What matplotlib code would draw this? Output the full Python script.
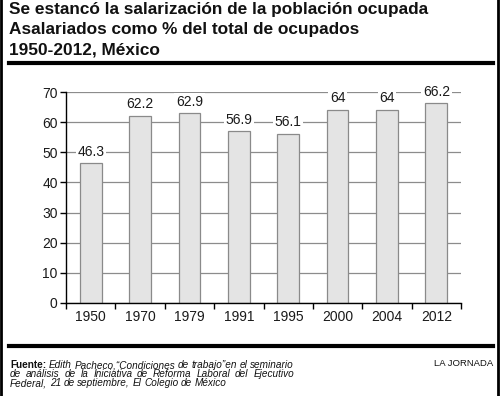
import matplotlib.pyplot as plt
from matplotlib.lines import Line2D
from matplotlib.transforms import IdentityTransform

# --- data ---
years = ["1950", "1970", "1979", "1991", "1995", "2000", "2004", "2012"]
pct_asalariados = [46.3, 62.2, 62.9, 56.9, 56.1, 64, 64, 66.2]
value_labels = ["46.3", "62.2", "62.9", "56.9", "56.1", "64", "64", "66.2"]
yticks = [0, 10, 20, 30, 40, 50, 60, 70]

title_lines = [
    "Se estancó la salarización de la población ocupada",
    "Asalariados como % del total de ocupados",
    "1950-2012, México",
]
source_lines = [
    [("Fuente:", "bold", "normal")] + [(w, "normal", "italic") for w in
        "Edith Pacheco,“Condiciones de trabajo”en el seminario".split()],
    [(w, "normal", "italic") for w in
        "de análisis de la Iniciativa de Reforma Laboral del Ejecutivo".split()],
    [(w, "normal", "italic") for w in
        "Federal, 21 de septiembre, El Colegio de México".split()],
]
credit = "LA JORNADA"

W, H = 500, 396
plt.rcParams["font.family"] = ["Liberation Sans", "DejaVu Sans"]

fig = plt.figure(figsize=(W / 100, H / 100), dpi=100)
px = IdentityTransform()


def fy(y):
    # pixel row from top -> matplotlib pixel y
    return H - y


# title block
for i, line in enumerate(title_lines):
    fig.text(9, fy(14 + 20.3 * i), line, transform=px, fontsize=12.4,
             fontweight="bold", va="baseline", ha="left", color="#111111")

# heavy rules and side borders
for yy in (63, 346):
    fig.add_artist(Line2D([9, 493], [fy(yy), fy(yy)], transform=px,
                          color="black", lw=3))
for xx in (1.2, 498.2):
    fig.add_artist(Line2D([xx, xx], [0, H], transform=px, color="black", lw=2))

# chart
ax = fig.add_axes([66 / W, (H - 303) / H, (461 - 66) / W, (303 - 92) / H])
x = range(len(years))
ax.bar(x, pct_asalariados, width=0.44, color="#e4e4e4", edgecolor="#8a8a8a",
       linewidth=0.9, zorder=2)
for xi, v, lab in zip(x, pct_asalariados, value_labels):
    ax.annotate(lab, (xi, v), xytext=(0, 3.5), textcoords="offset points",
                ha="center", va="bottom", fontsize=10, color="#1a1a1a",
                zorder=4,
                bbox=dict(boxstyle="square,pad=0.12", fc="white", ec="none"))

ax.set_xlim(-0.5, len(years) - 0.5)
ax.set_ylim(0, 70)
ax.set_yticks(yticks)
ax.set_xticks(list(x))
ax.set_xticklabels(years)
ax.set_xticks([i - 0.5 for i in range(len(years) + 1)], minor=True)
ax.tick_params(axis="x", which="major", length=0, pad=5, labelsize=10,
               labelcolor="#1a1a1a")
ax.tick_params(axis="x", which="minor", length=4, width=1, direction="out")
ax.tick_params(axis="y", length=4, width=1, direction="out", pad=2,
               labelsize=10, labelcolor="#1a1a1a")
ax.grid(axis="y", color="#8c8c8c", lw=0.9, zorder=0)
ax.set_axisbelow(True)
for s in ("top", "right"):
    ax.spines[s].set_visible(False)
for s in ("left", "bottom"):
    ax.spines[s].set_linewidth(1)

# source note, justified lines
renderer = fig.canvas.get_renderer()
full_width = 284
src_size = 7.2
for i, words in enumerate(source_lines):
    yb = fy(368 + 9 * i)
    texts = [fig.text(0, yb, w, transform=px, fontsize=src_size, fontweight=wt,
                      fontstyle=st, va="baseline", ha="left", color="#111111")
             for w, wt, st in words]
    widths = [t.get_window_extent(renderer).width for t in texts]
    if i < len(source_lines) - 1:
        gap = (full_width - sum(widths)) / (len(texts) - 1)
    else:
        gap = 2.6
    xpos = 10
    for t, w in zip(texts, widths):
        t.set_x(xpos)
        xpos += w + gap

fig.text(493, fy(366), credit, transform=px, fontsize=6.8, ha="right",
         va="baseline", color="#111111")

fig.savefig("out.png", dpi=100)
